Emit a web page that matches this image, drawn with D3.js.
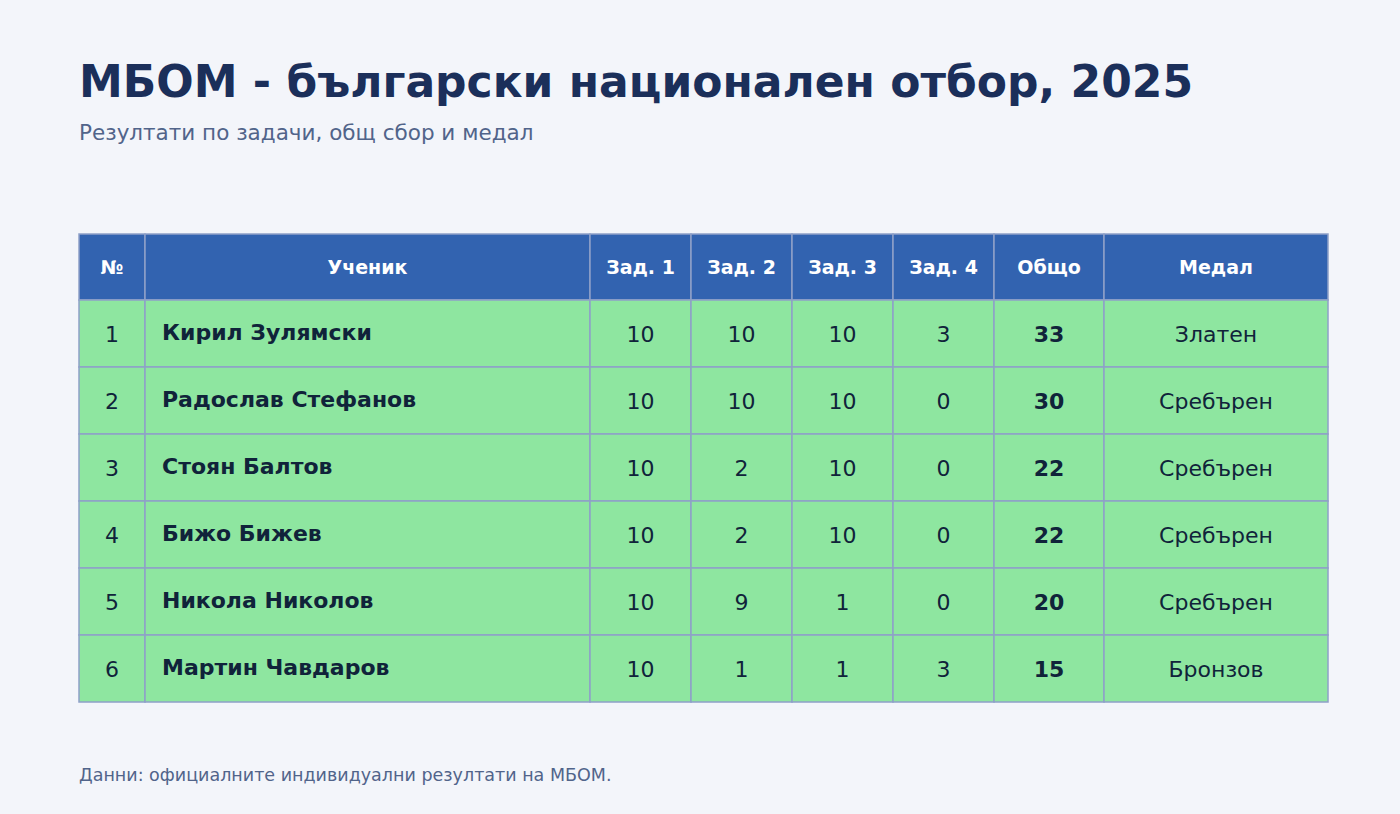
<!DOCTYPE html>
<html><head><meta charset="utf-8">
<script src="https://cdn.jsdelivr.net/npm/d3@7"></script>
<style>body{margin:0;background:#f3f5fa;font-family:"DejaVu Sans",sans-serif}</style>
</head><body>
<script>
// Table data
var headers = ["№", "Ученик", "Зад. 1", "Зад. 2", "Зад. 3", "Зад. 4", "Общо", "Медал"];
var names = ["Кирил Зулямски", "Радослав Стефанов", "Стоян Балтов", "Бижо Бижев", "Никола Николов", "Мартин Чавдаров"];
var p1 = [10, 10, 10, 10, 10, 10];
var p2 = [10, 10, 2, 2, 9, 1];
var p3 = [10, 10, 10, 10, 1, 1];
var p4 = [3, 0, 0, 0, 0, 3];
var totals = [33, 30, 22, 22, 20, 15];
var medals = ["Златен", "Сребърен", "Сребърен", "Сребърен", "Сребърен", "Бронзов"];

var colEdges = [79, 145, 590, 691, 792, 893, 994, 1104, 1328];
var tableTop = 234, headH = 66, rowH = 67;

var svg = d3.select("body").append("svg").attr("width", 1400).attr("height", 814);
svg.append("rect").attr("width", 1400).attr("height", 814).attr("fill", "#f3f5fa");

svg.append("text").attr("x", 79).attr("y", 97).text("МБОМ - български национален отбор, 2025")
  .attr("font-size", 44).attr("font-weight", "bold").attr("fill", "#1b2f5a");
svg.append("text").attr("x", 79).attr("y", 140).text("Резултати по задачи, общ сбор и медал")
  .attr("font-size", 21.5).attr("fill", "#51648a");
svg.append("text").attr("x", 79).attr("y", 781).text("Данни: официалните индивидуални резултати на МБОМ.")
  .attr("font-size", 17.5).attr("fill", "#51648a");

var rows = names.map(function(n, i) {
  return [i + 1, n, p1[i], p2[i], p3[i], p4[i], totals[i], medals[i]];
});

var y = d3.scaleBand().domain(d3.range(rows.length)).range([tableTop + headH, tableTop + headH + rowH * rows.length]);

// header
headers.forEach(function(h, c) {
  var x0 = colEdges[c], x1 = colEdges[c + 1];
  svg.append("rect").attr("x", x0).attr("y", tableTop).attr("width", x1 - x0).attr("height", headH)
    .attr("fill", "#3263b0").attr("stroke", "#8fa0c8").attr("stroke-width", 1.5);
  svg.append("text").attr("x", (x0 + x1) / 2).attr("y", tableTop + headH / 2 + 7).attr("text-anchor", "middle")
    .attr("font-size", 19).attr("font-weight", "bold").attr("fill", "#ffffff").text(h);
});

rows.forEach(function(r, i) {
  r.forEach(function(v, c) {
    var x0 = colEdges[c], x1 = colEdges[c + 1];
    svg.append("rect").attr("x", x0).attr("y", y(i)).attr("width", x1 - x0).attr("height", y.bandwidth())
      .attr("fill", "#8ee6a0").attr("stroke", "#8fa0c8").attr("stroke-width", 1.5);
    var t = svg.append("text").attr("y", y(i) + y.bandwidth() / 2 + 8).attr("font-size", 22)
      .attr("fill", "#10233a").text(v);
    if (c === 1) t.attr("x", x0 + 17).attr("font-weight", "bold").attr("y", y(i) + y.bandwidth() / 2 + 6);
    else t.attr("x", (x0 + x1) / 2).attr("text-anchor", "middle");
    if (c === 6) t.attr("font-weight", "bold");
  });
});
</script>
</body></html>
